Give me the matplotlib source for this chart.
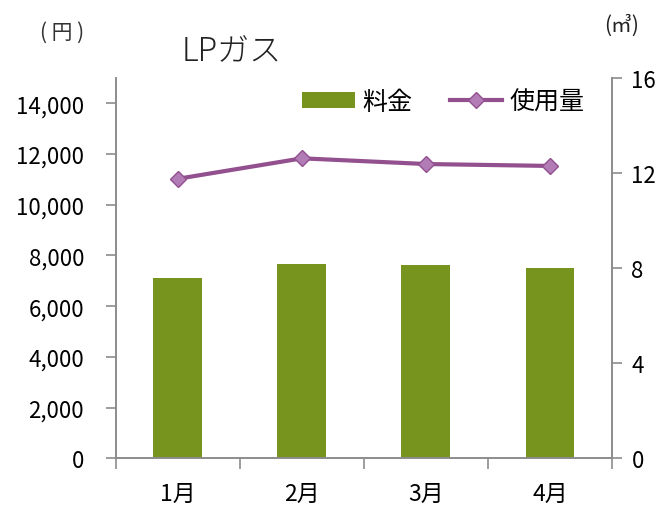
import matplotlib
matplotlib.use("Agg")
import matplotlib.pyplot as plt
from matplotlib.patches import Patch
from matplotlib.lines import Line2D

plt.rcParams["font.family"] = ["Noto Sans CJK JP", "DejaVu Sans"]

MONTHS = ["1月", "2月", "3月", "4月"]
FEE_YEN = [7120, 7650, 7620, 7500]
USAGE_M3 = [11.76, 12.62, 12.38, 12.30]
LEFT_TICKS = [0, 2000, 4000, 6000, 8000, 10000, 12000, 14000]
RIGHT_TICKS = [0, 4, 8, 12, 16]

BAR_COLOR = "#76941E"
LINE_COLOR = "#93508F"
MARKER_FACE = "#B27DB6"
AXIS_GRAY = "#8C8C8C"

fig = plt.figure(figsize=(6.65, 5.06), dpi=100)
ax = fig.add_axes([0.1744, 0.0923, 0.9203 - 0.1744, 0.8439 - 0.0923])
ax2 = ax.twinx()

xs = list(range(len(MONTHS)))
ax.bar(xs, FEE_YEN, width=0.395, color=BAR_COLOR, zorder=2)
ax2.plot(xs, USAGE_M3, color=LINE_COLOR, linewidth=3, marker="D", markersize=8,
         markerfacecolor=MARKER_FACE, markeredgecolor=LINE_COLOR, markeredgewidth=1,
         zorder=3)

ax.set_xlim(-0.5, len(MONTHS) - 0.5)
ax.set_ylim(0, 15000)
ax2.set_ylim(0, 16)

ax.set_yticks(LEFT_TICKS)
ax.set_yticklabels([f"{v:,}" for v in LEFT_TICKS])
ax2.set_yticks(RIGHT_TICKS)
ax2.set_yticklabels([str(v) for v in RIGHT_TICKS])

ax.set_xticks(xs)
ax.set_xticklabels(MONTHS)
ax.set_xticks([x - 0.5 for x in range(len(MONTHS) + 1)], minor=True)
ax.tick_params(axis="x", which="major", length=0, pad=17, labelsize=16.5)
ax.tick_params(axis="x", which="minor", length=8, width=1.2, color=AXIS_GRAY, direction="out")
ax.tick_params(axis="y", length=7, width=1.2, color=AXIS_GRAY, pad=16, labelsize=16)
ax2.tick_params(axis="y", length=7, width=1.2, color=AXIS_GRAY, pad=7, labelsize=16)

for a in (ax, ax2):
    a.spines["top"].set_visible(False)
    for side in ("left", "right", "bottom"):
        a.spines[side].set_color(AXIS_GRAY)
        a.spines[side].set_linewidth(1.2)

fig.text(0.094, 0.935, "( 円 )", fontsize=15, ha="center", va="center", color="#333333")
fig.text(0.935, 0.950, "(㎥)", fontsize=15, ha="center", va="center", color="#222222")
fig.text(0.348, 0.900, "LPガス", fontsize=23, ha="center", va="center",
         color="#222222", fontweight="light")

handles = [
    Patch(facecolor=BAR_COLOR, edgecolor="none", label="料金"),
    Line2D([0], [0], color=LINE_COLOR, linewidth=3, marker="D", markersize=8,
           markerfacecolor=MARKER_FACE, markeredgecolor=LINE_COLOR, label="使用量"),
]
fig.legend(handles=handles, loc="center", bbox_to_anchor=(0.667, 0.797), ncol=2,
           frameon=False, fontsize=18, handlelength=2.1, handleheight=0.6,
           handletextpad=0.3, columnspacing=1.5)

fig.savefig("out.png", dpi=100)
